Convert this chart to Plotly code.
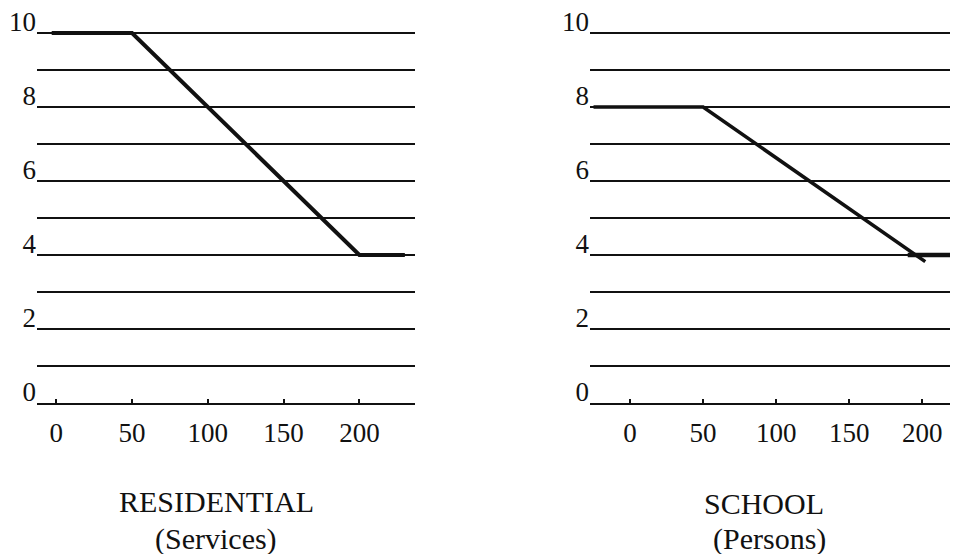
import plotly.graph_objects as go

# ---- data ----
res_x = [-3, 50, 200, 230]
res_y = [10, 10, 4, 4]

sch_x = [-25, 50, 202]
sch_y = [8, 8, 3.82]
sch_flat_x = [190, 226]
sch_flat_y = [4, 4]

x_ticks = [0, 50, 100, 150, 200]
y_ticks = [0, 2, 4, 6, 8, 10]

titles = [("RESIDENTIAL", "(Services)"), ("SCHOOL", "(Persons)")]

# page has an 8px body margin; figure drawn to fill the remaining window
OFF = 8
W, H = 958 - OFF, 554 - OFF
FONT = "Liberation Serif"
INK = "#111111"

def px(x):
    return (x - OFF) / W

def py(y):
    return 1 - (y - OFF) / H

fig = go.Figure()
fig.add_trace(go.Scatter(x=res_x, y=res_y, mode="lines",
                         line=dict(color=INK, width=4), xaxis="x", yaxis="y",
                         showlegend=False, hoverinfo="skip"))
fig.add_trace(go.Scatter(x=sch_x, y=sch_y, mode="lines",
                         line=dict(color=INK, width=3.5), xaxis="x2", yaxis="y2",
                         showlegend=False, hoverinfo="skip"))
fig.add_trace(go.Scatter(x=sch_flat_x, y=sch_flat_y, mode="lines",
                         line=dict(color=INK, width=4.5), xaxis="x2", yaxis="y2",
                         showlegend=False, hoverinfo="skip"))

YTOP = 10.65
ydom = [py(403), py(33 - (YTOP - 10) * 37)]

def xaxis(domain, rng, anchor):
    return dict(domain=domain, range=rng, anchor=anchor, tickvals=x_ticks,
                ticktext=[str(v) for v in x_ticks],
                showgrid=False, zeroline=False, showline=True,
                linecolor=INK, linewidth=2.2, ticks="inside", ticklen=4,
                tickwidth=2, tickcolor=INK, ticklabelstandoff=4,
                tickfont=dict(family=FONT, size=27, color=INK),
                automargin=False, fixedrange=True)

def yaxis(anchor):
    return dict(domain=ydom, range=[0, YTOP], anchor=anchor,
                tickvals=y_ticks, ticktext=[str(v) for v in y_ticks],
                showgrid=True, gridcolor=INK, gridwidth=2.2,
                minor=dict(dtick=1, tick0=0, showgrid=True, gridcolor=INK,
                           gridwidth=2.2),
                zeroline=False, showline=False, ticks="",
                ticklabelshift=-11, ticklabelstandoff=0,
                ticklabeloverflow="allow",
                tickfont=dict(family=FONT, size=27, color=INK),
                automargin=False, fixedrange=True)

fig.update_layout(
    width=W, height=H,
    margin=dict(l=0, r=0, t=0, b=0),
    paper_bgcolor="white", plot_bgcolor="white",
    xaxis=xaxis([px(37), px(415)], [-12.7, 236.7], "y"),
    yaxis=yaxis("x"),
    xaxis2=xaxis([px(590), 1.0], [-27.4, 224.4], "y2"),
    yaxis2=yaxis("x2"),
    font=dict(family=FONT, color=INK),
)

positions = [((216, 501), (216, 539)), ((764, 503), (769, 539))]
for (t1, t2), ((x1, y1), (x2, y2)) in zip(titles, positions):
    fig.add_annotation(text=t1, x=px(x1), y=py(y1), xref="paper", yref="paper",
                       showarrow=False, xanchor="center", yanchor="middle",
                       font=dict(family=FONT, size=30, color=INK))
    fig.add_annotation(text=t2, x=px(x2), y=py(y2), xref="paper", yref="paper",
                       showarrow=False, xanchor="center", yanchor="middle",
                       font=dict(family=FONT, size=30, color=INK))

fig.write_html("out.html")
